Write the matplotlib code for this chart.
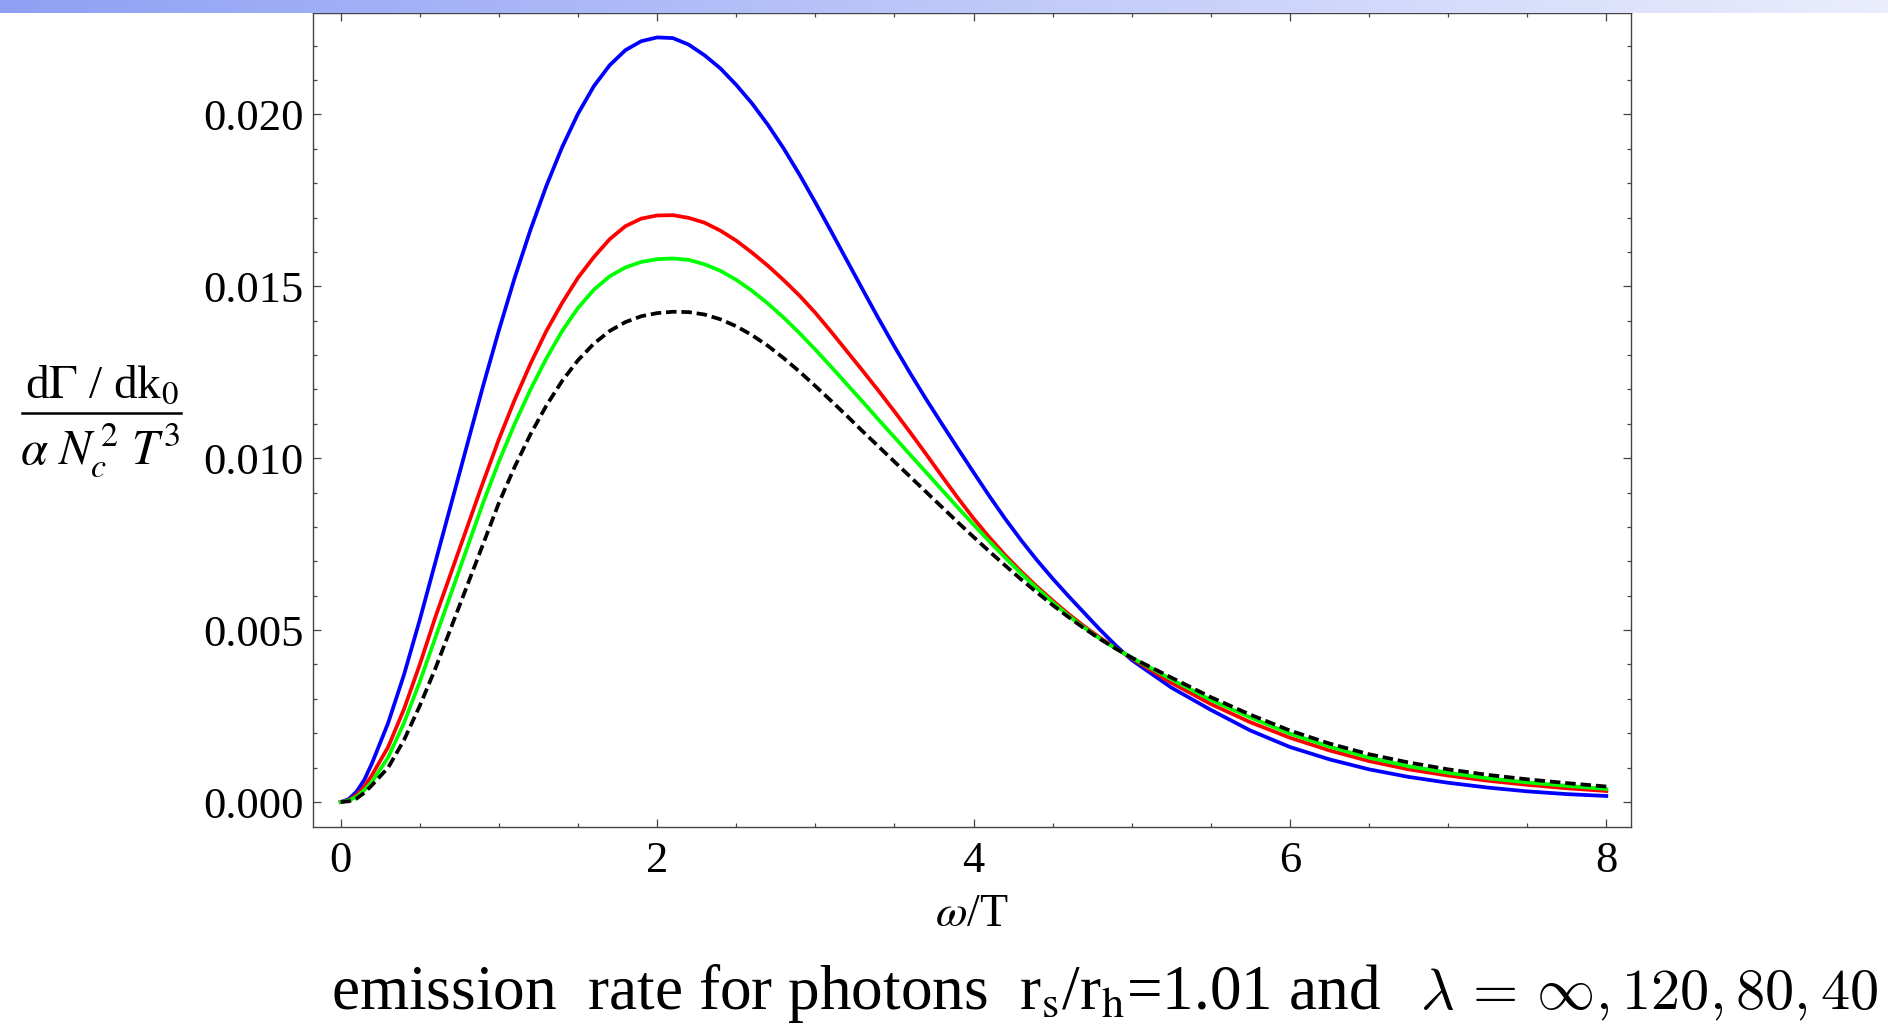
import numpy as np
import matplotlib
matplotlib.use("Agg")
import matplotlib.pyplot as plt
from matplotlib.ticker import MultipleLocator, FixedLocator

# ---------------- data ----------------
omega = ([0.0, 0.05, 0.1, 0.15, 0.2] + [round(0.1 * i, 1) for i in range(3, 51)]
         + [5.25, 5.5, 5.75, 6.0, 6.25, 6.5, 6.75, 7.0, 7.25, 7.5, 7.75, 8.0])

rate_inf = [0.0, 0.00008, 0.0003, 0.00065, 0.00115,
            0.0023, 0.0037, 0.0053, 0.0070, 0.0087, 0.0104, 0.0121,
            0.01372, 0.01525, 0.01665, 0.01792, 0.01905, 0.02002, 0.02082, 0.02143, 0.02187, 0.02213,
            0.02224, 0.02222, 0.02203, 0.02172, 0.02134, 0.02086, 0.02032, 0.0197, 0.01901, 0.01825,
            0.01744, 0.0166, 0.01575, 0.0149, 0.01406, 0.01325, 0.01247, 0.01172, 0.011, 0.01029,
            0.00959, 0.0089, 0.00824, 0.00762, 0.00704, 0.0065, 0.00599, 0.0055, 0.00501, 0.00455,
            0.00413,
            0.00333, 0.00268, 0.00208, 0.00160, 0.00124, 0.00095, 0.00073, 0.00056, 0.00042,
            0.00031, 0.00023, 0.000175]

rate_120 = [0.0, 0.00005, 0.0002, 0.00045, 0.0008,
            0.0016, 0.0027, 0.0040, 0.0054, 0.0067, 0.0080, 0.0093,
            0.01055, 0.0117, 0.01275, 0.0137, 0.01452, 0.01525, 0.01585, 0.01637, 0.01675, 0.01697,
            0.01706, 0.01707, 0.01699, 0.01685, 0.01662, 0.01633, 0.01598, 0.0156, 0.01518, 0.01473,
            0.01423, 0.01368, 0.01311, 0.01254, 0.01196, 0.01136, 0.01075, 0.01012, 0.00948, 0.00885,
            0.00825, 0.0077, 0.00718, 0.00671, 0.00627, 0.00586, 0.00547, 0.00511, 0.00478, 0.00447,
            0.00418,
            0.00347, 0.00285, 0.00232, 0.00187, 0.00150, 0.00119, 0.00095, 0.00077, 0.00062,
            0.00050, 0.00040, 0.00032]

rate_80 = [0.0, 0.00004, 0.00015, 0.00035, 0.0006,
           0.0013, 0.0023, 0.0035, 0.0048, 0.0061, 0.0074, 0.0087,
           0.0099, 0.0110, 0.0120, 0.0129, 0.0137, 0.01437, 0.0149, 0.01529, 0.01555, 0.01571,
           0.01579, 0.01581, 0.01577, 0.01564, 0.01545, 0.01519, 0.01487, 0.0145, 0.01409, 0.01364,
           0.01316, 0.01266, 0.01215, 0.01164, 0.01112, 0.01061, 0.0101, 0.00959, 0.00908, 0.00857,
           0.00807, 0.00758, 0.00711, 0.00665, 0.00622, 0.00581, 0.00542, 0.00507, 0.00475, 0.00446,
           0.0042,
           0.00357, 0.00297, 0.00246, 0.00199, 0.00161, 0.00129, 0.00104, 0.00085, 0.00069,
           0.00057, 0.00047, 0.00038]

rate_40 = [0.0, 0.00002, 0.0001, 0.00027, 0.0005,
           0.0010, 0.0018, 0.0028, 0.0039, 0.0051, 0.0063, 0.0075,
           0.0087, 0.00975, 0.0107, 0.01153, 0.01225, 0.01285, 0.01333, 0.0137, 0.01396, 0.01413,
           0.01422, 0.01426, 0.01425, 0.01418, 0.01404, 0.01384, 0.01358, 0.01327, 0.01291, 0.01252,
           0.0121, 0.01167, 0.01123, 0.01078, 0.01034, 0.0099, 0.00946, 0.00902, 0.00858, 0.00814,
           0.00771, 0.00729, 0.00688, 0.00648, 0.0061, 0.00573, 0.00538, 0.00505, 0.00474, 0.00446,
           0.0042,
           0.00362, 0.00305, 0.00254, 0.00208, 0.00170, 0.00139, 0.00115, 0.00095, 0.00079,
           0.00066, 0.00055, 0.00045]

x_ticks = [0, 2, 4, 6, 8]
y_ticks = [0.000, 0.005, 0.010, 0.015, 0.020]
y_tick_labels = ["0.000", "0.005", "0.010", "0.015", "0.020"]

# ---------------- figure ----------------
W, H = 1888, 1025
fig = plt.figure(figsize=(W / 100, H / 100), dpi=100)
fig.patch.set_facecolor("white")

serif = ["Liberation Serif", "DejaVu Serif"]
plt.rcParams["mathtext.fontset"] = "stix"

ax_l, ax_r, ax_b, ax_t = 313, 1631, 827, 13
ax = fig.add_axes([ax_l / W, 1 - ax_b / H, (ax_r - ax_l) / W, (ax_b - ax_t) / H])

lw = 2.7
ax.plot(omega, rate_inf, color="#0000ff", lw=lw)
ax.plot(omega, rate_120, color="#ff0000", lw=lw)
ax.plot(omega, rate_80, color="#00ff00", lw=lw)
ax.plot(omega, rate_40, color="black", lw=lw, linestyle=(0, (2.8, 1.3)))

ax.set_xlim(-0.175, 8.156)
ax.set_ylim(-0.000727, 0.02295)

ax.xaxis.set_major_locator(FixedLocator(x_ticks))
ax.xaxis.set_minor_locator(MultipleLocator(0.5))
ax.yaxis.set_major_locator(FixedLocator(y_ticks))
ax.yaxis.set_minor_locator(MultipleLocator(0.001))
ax.set_xticklabels([str(v) for v in x_ticks])
ax.set_yticklabels(y_tick_labels)

for s in ax.spines.values():
    s.set_color("#444444")
    s.set_linewidth(1.0)

ax.tick_params(which="both", direction="in", top=True, right=True,
               color="#444444", width=0.9)
ax.tick_params(which="major", length=6)
ax.tick_params(which="minor", length=3)
ax.tick_params(axis="y", which="major", pad=7, labelsize=32)
ax.tick_params(axis="x", which="major", pad=10, labelsize=32)
for lab in ax.get_xticklabels() + ax.get_yticklabels():
    lab.set_fontfamily(serif)

# x label
fig.text(972 / W, 1 - 915 / H, r"$\omega$/T", fontsize=33, family=serif,
         ha="center", va="center")

# y label as a stacked fraction
fig.text(102 / W, 1 - 398 / H, r"d$\Gamma$ / dk$_0$", fontsize=34, family=serif,
         ha="center", va="baseline")
fig.add_artist(plt.Line2D([22 / W, 181 / W], [1 - 413 / H, 1 - 413 / H],
                          color="black", lw=1.8, transform=fig.transFigure))
fig.text(100 / W, 1 - 464 / H, r"$\alpha\ N_c^{\,2}\ T^3$", fontsize=35,
         family=serif, ha="center", va="baseline")

# caption
fig.text(331 / W, 1 - 1009 / H,
         r"emission  rate for photons  r$_\mathrm{s}$/r$_\mathrm{h}$=1.01 and",
         fontsize=45.5, family=serif, ha="left", va="baseline")
fig.text(1878 / W, 1 - 1009 / H, r"$\lambda\,=\,\infty, 120, 80, 40$",
         fontsize=42, math_fontfamily="cm", ha="right", va="baseline")

# top gradient bar
bar = fig.add_axes([0, 1 - 13 / H, 1, 13 / H], zorder=10)
c0 = np.array([0.56, 0.63, 0.96])
c1 = np.array([0.92, 0.93, 0.99])
t = np.linspace(0, 1, 256)[None, :, None]
grad = c0 + (c1 - c0) * t
bar.imshow(grad, aspect="auto", extent=[0, 1, 0, 1])
bar.set_axis_off()

fig.savefig("out.png", dpi=100, facecolor="white")
